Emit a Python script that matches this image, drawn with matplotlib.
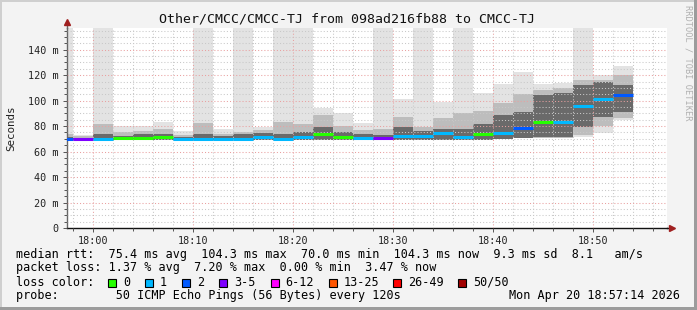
#!/usr/bin/env python3
# smokeping style latency graph, CMCC-TJ
from datetime import datetime, timedelta
import matplotlib
matplotlib.use('Agg')
import matplotlib.pyplot as plt
import matplotlib.dates as mdates
from matplotlib.patches import Rectangle
from matplotlib.ticker import MultipleLocator, FuncFormatter

MONO = 'DejaVu Sans Mono'

# column start times (2 min steps)
times = ['17:56', '17:58', '18:00', '18:02', '18:04', '18:06', '18:08', '18:10',
         '18:12', '18:14', '18:16', '18:18', '18:20', '18:22', '18:24', '18:26',
         '18:28', '18:30', '18:32', '18:34', '18:36', '18:38', '18:40', '18:42',
         '18:44', '18:46', '18:48', '18:50', '18:52']
median_ms = [70.0, 70.0, 70.0, 70.3, 70.3, 71.4, 70.0, 70.0, 70.0, 70.0, 71.7, 70.0,
             71.5, 74.0, 71.7, 71.0, 70.7, 72.2, 72.2, 74.8, 71.7, 73.8, 74.8, 78.8,
             83.5, 83.5, 95.8, 101.5, 104.3]
loss_class = [2, 3, 1, 0, 0, 0, 1, 1, 1, 1, 1, 1, 1, 0, 0, 1, 3, 1, 1, 1, 1, 0, 1, 2,
              0, 1, 1, 1, 2]
smoke_min = [69.5, 69.5, 69.5, 69.5, 69.5, 69.5, 69.5, 69.5, 69.5, 69.5, 69.5, 69.5,
             69.5, 69.5, 69.5, 69.5, 69.5, 69.5, 69.5, 69.5, 69.5, 70.5, 70.5, 70.5,
             70.5, 70.5, 71.5, 74.3, 84.8]
smoke_max = [157, 73, 157, 80, 80, 83, 76, 157, 78, 157, 79.5, 157, 157, 94.5, 90, 82.5,
             157, 101, 157, 99, 157, 105.7, 113, 122.5, 113, 113.6, 157, 120, 127]
mid_lo = [69.5, 69.5, 69.5, 69.5, 69.5, 69.5, 69.5, 69.5, 69.5, 69.5, 69.5, 69.5,
          69.5, 69.5, 69.5, 69.5, 69.5, 69.5, 69.5, 69.5, 69.5, 70.5, 70.5, 70.5,
          70.5, 70.5, 73.0, 80.0, 86.0]
mid_hi = [74, 72, 81.7, 75, 76, 78, 73, 82.7, 74, 75.6, 77, 83, 81.7, 88.7, 80, 77,
          77.5, 87.4, 79.5, 86, 90, 92, 98, 105, 108, 110, 116, 116, 120]
core_lo = [69.5, 69.5, 69.5, 69.5, 69.5, 69.5, 69.5, 69.5, 69.5, 69.5, 69.5, 69.5,
           69.5, 69.5, 69.5, 69.5, 69.5, 69.5, 69.5, 69.5, 69.5, 69.5, 70.0, 71.0,
           71.7, 71.7, 79.5, 87.4, 91.3]
core_hi = [71.5, 70.8, 74, 72, 74, 74, 71.5, 74, 72, 74, 74.8, 74, 75, 79.5, 75, 73.5,
           73, 79.5, 76, 78, 78, 82, 88.7, 91.3, 104.4, 105.7, 112, 115, 112]

loss_labels = ['0', '1', '2', '3-5', '6-12', '13-25', '26-49', '50/50']
loss_colors = ['#26ff00', '#00b8ff', '#0059ff', '#7e00ff', '#ff00ff', '#ff5500',
               '#ff0000', '#a10000']

title = 'Other/CMCC/CMCC-TJ from 098ad216fb88 to CMCC-TJ'
stat_rtt = 'median rtt:  75.4 ms avg  104.3 ms max  70.0 ms min  104.3 ms now  9.3 ms sd  8.1   am/s'
stat_loss = 'packet loss: 1.37 % avg  7.20 % max  0.00 % min  3.47 % now'
probe_txt = 'probe:        50 ICMP Echo Pings (56 Bytes) every 120s'
stamp_txt = 'Mon Apr 20 18:57:14 2026'

W, H = 697, 310
day = datetime(2026, 4, 20)
t0 = [day + timedelta(hours=int(s[:2]), minutes=int(s[3:])) for s in times]
x0 = mdates.date2num(t0)
step = 2 / 1440.0
x1 = x0 + step

fig = plt.figure(figsize=(W / 100, H / 100), dpi=100, facecolor='#f3f3f3')

def px(x, y):
    return x / W, 1 - y / H

# frame bevel
fig.patches.append(Rectangle((0, 1 - 2 / H), 1, 2 / H, transform=fig.transFigure,
                             facecolor='#cfcfcf', edgecolor='none'))
fig.patches.append(Rectangle((0, 0), 2 / W, 1, transform=fig.transFigure,
                             facecolor='#cfcfcf', edgecolor='none'))
fig.patches.append(Rectangle((0, 0), 1, 3 / H, transform=fig.transFigure,
                             facecolor='#9c9c9c', edgecolor='none'))
fig.patches.append(Rectangle((1 - 3 / W, 0), 3 / W, 1, transform=fig.transFigure,
                             facecolor='#9c9c9c', edgecolor='none'))

left, right, top, bottom = 67, 667, 27.7, 228
ax = fig.add_axes([left / W, 1 - bottom / H, (right - left) / W, (bottom - top) / H])
ax.set_facecolor('white')

ax.bar(x0, [b - a for a, b in zip(smoke_min, smoke_max)], bottom=smoke_min, width=step,
       align='edge', color='#e3e3e3', linewidth=0, zorder=1)
ax.bar(x0, [b - a for a, b in zip(mid_lo, mid_hi)], bottom=mid_lo, width=step,
       align='edge', color='#bdbdbd', linewidth=0, zorder=1.1)
ax.bar(x0, [b - a for a, b in zip(core_lo, core_hi)], bottom=core_lo, width=step,
       align='edge', color='#6a6a6a', linewidth=0, zorder=1.2)
ax.hlines(median_ms, x0, x1, colors=[loss_colors[c] for c in loss_class],
          linewidth=2.2, zorder=3)

xmin = mdates.date2num(day + timedelta(hours=17, minutes=57, seconds=22))
xmax = mdates.date2num(day + timedelta(hours=18, minutes=57, seconds=22))
ax.set_xlim(xmin, xmax)
ax.set_ylim(0, 157.3)

ax.xaxis.set_major_locator(mdates.MinuteLocator(byminute=range(0, 60, 10)))
ax.xaxis.set_minor_locator(mdates.MinuteLocator(byminute=range(0, 60, 2)))
ax.xaxis.set_major_formatter(mdates.DateFormatter('%H:%M'))
ax.yaxis.set_major_locator(MultipleLocator(20))
ax.yaxis.set_minor_locator(MultipleLocator(5))
ax.yaxis.set_major_formatter(FuncFormatter(lambda v, p: '0' if v == 0 else f'{v:.0f} m'))

ax.set_axisbelow(False)
ax.grid(which='minor', color='#c8c8c8', linestyle=(0, (1, 2)), linewidth=0.75)
ax.grid(which='major', color='#e9a0a0', linestyle=(0, (1, 2)), linewidth=0.75)

ax.tick_params(which='both', direction='out', color='#555555', width=0.7,
               labelsize=7.3, labelcolor='#222222', pad=3)
ax.tick_params(which='major', length=3)
ax.tick_params(which='minor', length=2)
for lab in ax.get_xticklabels() + ax.get_yticklabels():
    lab.set_family(MONO)

for s in ['top', 'right']:
    ax.spines[s].set_visible(False)
ax.spines['left'].set_color('#666666')
ax.spines['bottom'].set_color('#111111')
ax.spines['left'].set_linewidth(1.0)
ax.spines['bottom'].set_linewidth(1.0)
ax.plot([0, 0], [1, 1.03], color='#666666', lw=1.0, transform=ax.transAxes, clip_on=False)
ax.plot([1, 1.008], [0, 0], color='#111111', lw=1.0, transform=ax.transAxes, clip_on=False)
ax.plot([0], [1.03], marker='^', ms=4.5, color='#a02020', transform=ax.transAxes, clip_on=False)
ax.plot([1.008], [0], marker='>', ms=4.5, color='#a02020', transform=ax.transAxes, clip_on=False)

fig.text(*px(11, 128), 'Seconds', rotation=90, ha='center', va='center',
         fontsize=7.8, family=MONO, color='#222222')
fig.text(*px(347, 19), title, ha='center', va='center', fontsize=9.5, family=MONO,
         color='#111111')
fig.text(*px(688, 5), 'RRDTOOL / TOBI OETIKER', rotation=270, ha='center', va='top',
         fontsize=6.2, family=MONO, color='#b0b0b0')

fig.text(*px(16, 254.3), stat_rtt, ha='left', va='center', fontsize=8.5, family=MONO)
fig.text(*px(16, 268), stat_loss, ha='left', va='center', fontsize=8.5, family=MONO)
fig.text(*px(16, 282), 'loss color:', ha='left', va='center', fontsize=8.5, family=MONO)
fig.text(*px(16, 296), probe_txt, ha='left', va='center', fontsize=8.5, family=MONO)
fig.text(*px(680, 296), stamp_txt, ha='right', va='center', fontsize=8.5, family=MONO)

box_x = [108.3, 145, 182.3, 219, 270.7, 329, 393.3, 458.3]
for bx, lab, col in zip(box_x, loss_labels, loss_colors):
    fig.patches.append(Rectangle(px(bx, 286.5), 8 / W, 8 / H, transform=fig.transFigure,
                                 facecolor=col, edgecolor='black', linewidth=0.8))
    fig.text(*px(bx + 15, 282), lab, ha='left', va='center', fontsize=8.5, family=MONO)

fig.savefig('out.png', dpi=100, facecolor=fig.get_facecolor())
